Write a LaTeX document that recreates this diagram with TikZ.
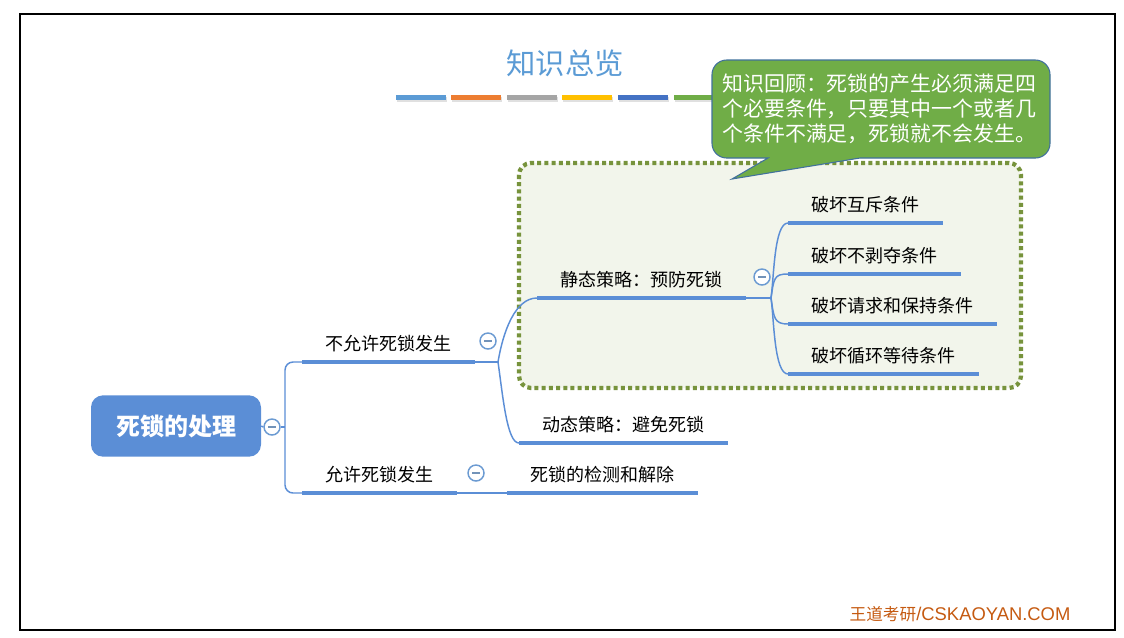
\documentclass[tikz,border=0pt]{standalone}
\usepackage{fontspec}
\setmainfont{Noto Sans CJK SC}
\newfontfamily\latinfont{Liberation Sans}

\definecolor{mapblue}{HTML}{5B8ED6}
\definecolor{foldblue}{HTML}{6C9BD2}
\definecolor{titleblue}{HTML}{5B9BD5}
\definecolor{notegreen}{HTML}{70AD47}
\definecolor{noteedge}{HTML}{41719C}
\definecolor{boxfill}{HTML}{F2F5EB}
\definecolor{boxedge}{HTML}{77933C}
\definecolor{sitecolor}{HTML}{C55A11}
\definecolor{bara}{HTML}{5B9BD5}
\definecolor{barb}{HTML}{ED7D31}
\definecolor{barc}{HTML}{A5A5A5}
\definecolor{bard}{HTML}{FFC000}
\definecolor{bare}{HTML}{4472C4}
\definecolor{barf}{HTML}{70AD47}

\tikzset{
  topic/.style={anchor=south west, inner xsep=17.5pt, inner ysep=0pt, outer sep=0pt,
    text height=11pt, text depth=8.6pt, font=\fontsize{13.5}{16}\selectfont},
  uline/.style={draw=mapblue, line width=3.6pt},
  conn/.style={draw=mapblue, line width=1.1pt},
  fold/.style={circle, draw=foldblue, line width=1.1pt, fill=white, minimum size=12pt, inner sep=0pt,
    path picture={\draw[line width=1pt, foldblue!70!gray]
      ([xshift=-3pt]path picture bounding box.center) -- ([xshift=3pt]path picture bounding box.center);}},
  rootbox/.style={fill=mapblue, rounded corners=9pt, minimum width=127.5pt, minimum height=46pt,
    text=white, font=\fontsize{18}{20}\selectfont\bfseries}
}

\begin{document}
\begin{tikzpicture}[x=0.75pt, y=-0.75pt]
  \useasboundingbox (0,0) rectangle (1124,637);
  \draw[line width=1.6pt] (20,14) rectangle (1115,630);

  % title and colour bars
  \node[text=titleblue, font=\fontsize{22}{24}\selectfont] (title) at (565,63) {知识总览};
  \foreach \c [count=\i] in {bara,barb,barc,bard,bare,barf} {
    \fill[black!12] (341+\i*55.6,97) rectangle +(50,5);
    \fill[\c] (340+\i*55.6,95) rectangle +(50,5);
  }

  % static strategy group
  \draw[boxedge, fill=boxfill, line width=3.2pt, dash pattern=on 3pt off 2.4pt, rounded corners=9pt]
    (519,163) rectangle (1021,388);

  % note bubble
  \filldraw[fill=notegreen, draw=noteedge, line width=0.8pt]
    (860,158) [rounded corners=11pt] -- (1050,158) -- (1050,60) -- (712,60) -- (712,158)
    [sharp corners] -- (768,158) -- (732,179) -- cycle;
  \node[anchor=north west, align=left, inner sep=0pt, text=white, font=\fontsize{15.7}{18.5}\selectfont]
    (note) at (722,74) {知识回顾：死锁的产生必须满足四\\个必要条件，只要其中一个或者几\\个条件不满足，死锁就不会发生。};

  % mind map
  \node[rootbox] (root) at (176,426) {死锁的处理};
  \node[topic] (b1) at (302,362) {不允许死锁发生};
  \node[topic] (b2) at (302,493) {允许死锁发生};
  \node[topic] (s1) at (537,298) {静态策略：预防死锁};
  \node[topic] (s2) at (519,443) {动态策略：避免死锁};
  \node[topic] (d1) at (507,493) {死锁的检测和解除};
  \node[topic] (c1) at (788,223) {破坏互斥条件};
  \node[topic] (c2) at (788,274) {破坏不剥夺条件};
  \node[topic] (c3) at (788,324) {破坏请求和保持条件};
  \node[topic] (c4) at (788,374) {破坏循环等待条件};
  \foreach \n in {b1,b2,s1,s2,d1,c1,c2,c3,c4}
    \draw[uline] (\n.south west) -- (\n.south east);

  \coordinate (r0) at (285,427);
  \coordinate (j1) at (498,362);
  \coordinate (j2) at (771,298);
  \draw[conn, rounded corners=6pt] (b1.south west) -| (r0) |- (b2.south west);
  \draw[conn] (b1.south east) -- (j1);
  \draw[conn] (j1) .. controls +(5,-30) and +(-22,0) .. (s1.south west);
  \draw[conn] (j1) .. controls +(5,35) and +(-12,0) .. (s2.south west);
  \draw[conn] (b2.south east) -- (d1.south west);
  \draw[conn] (s1.south east) -- (j2);
  \foreach \c/\d in {c1/-1,c2/-1,c3/1,c4/1}
    \draw[conn] (j2) .. controls +(3,\d*20) and +(-14,0) .. (\c.south west);

  \node[fold] (f0) at (272,427) {};
  \node[fold] (f1) at (488,341) {};
  \node[fold] (f2) at (476,473) {};
  \node[fold] (f3) at (762,277) {};
  \draw[conn] (root.east) -- (f0.west);
  \draw[conn] (f0.east) -- (r0);

  % footer
  \node[text=sitecolor] (site) at (960,614)
    {\fontsize{12.5}{14}\selectfont 王道考研\latinfont\fontsize{13.8}{14}\selectfont /CSKAOYAN.COM};
\end{tikzpicture}
\end{document}
